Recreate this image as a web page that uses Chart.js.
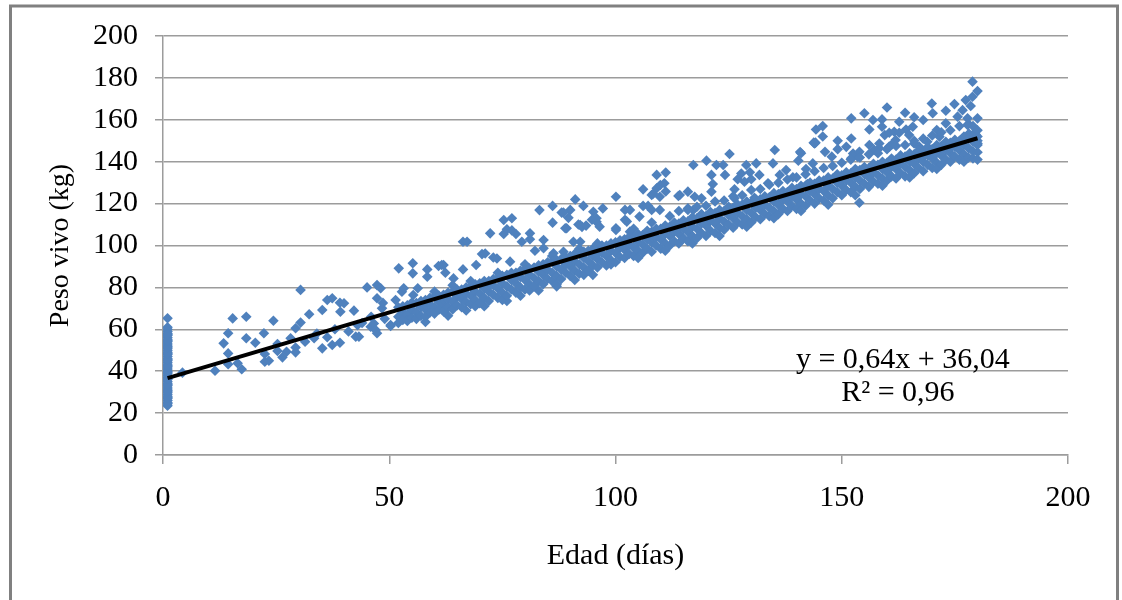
<!DOCTYPE html>
<html>
<head>
<meta charset="utf-8">
<script src="https://cdn.jsdelivr.net/npm/chart.js@4.4.1/dist/chart.umd.min.js"></script>
<style>
  html, body { margin: 0; padding: 0; background: #fff; }
  #grafico { display: block; }
</style>
</head>
<body>
<canvas id="grafico" width="1122" height="600"></canvas>
<script>
// peso al nacer (edad = 1 dia)
const nacidosPeso = [23.5, 25, 26, 27, 28, 29, 30, 31, 32, 33, 34, 35, 36, 37, 38, 39, 40, 41, 42, 43,
  44, 45, 46, 47, 48, 49, 50, 51, 52, 53, 54, 55, 56, 57, 58, 59, 60, 61, 65.3,
  24.5, 27.5, 30.5, 33.5, 36.5, 39.5, 42.5, 45.5, 48.5, 51.5, 54.5, 57.5];

// primeros dias, puntos sueltos [edad, peso]
const tramo1 = [[4.3, 39.3], [11.5, 40.2], [13.4, 53.3], [14.4, 58.1], [14.4, 48.5], [14.4, 43.3], [15.4, 65.2],
  [16.5, 43.8], [17.4, 40.9], [18.4, 66], [18.4, 55.7], [20.4, 53.6], [22.3, 58.1], [22.5, 48.2], [22.5, 44.5],
  [23.4, 45], [24.4, 64.1], [25.3, 53], [25.3, 49.7], [26.4, 46.6], [27.3, 49.3], [28.2, 55.7], [29.3, 60.5],
  [29.3, 51.3], [29.3, 49], [30.4, 78.8], [30.4, 63.2], [31.4, 54.1], [32.3, 67.2], [33.4, 55.7], [35.2, 69.2],
  [35.2, 50.9], [36.3, 74], [37.4, 74.8], [36.3, 56.2], [37.4, 52.5], [39.1, 72.7], [39.1, 53.6], [39.2, 68.4],
  [40, 72.4], [42.2, 68.9], [42.6, 56.5], [43.3, 56.5], [45.1, 80], [45.9, 61.2], [46.6, 62.8], [47, 59.7],
  [47.3, 58.1], [47.3, 81.1], [48.1, 79.6], [47.3, 74.8], [48.4, 70], [48.6, 72.6], [50.3, 62], [50.3, 61.6],
  [34, 58], [38, 60], [41, 59], [43, 62], [44, 63], [46, 66], [49, 65]];

// puntos altos dispersos, 50 a 100 dias
const tramo2 = [[51.4, 74], [52.1, 89.1], [52.8, 77.9], [53.2, 79.6], [52.9, 67.6], [55.2, 91.5], [55.2, 86.7],
  [55.3, 76.4], [56.3, 79.6], [58.4, 88.6], [58.4, 85.1], [60.9, 90.2], [62, 90.7], [62.4, 87], [64.2, 84.3],
  [66.3, 88.6], [66.3, 101.8], [67.2, 101.8], [69.2, 90.7], [70.5, 95.9], [71.2, 96.2], [72.3, 105.8], [73, 94.3],
  [73.8, 93.8], [75.3, 112.2], [75.3, 105.5], [77.1, 113], [76, 107.7], [77.1, 107.2], [78, 105.5], [79.3, 101.8],
  [76.7, 92.3], [81.1, 105.8], [81.1, 103], [82.2, 97.5], [84.1, 102.6], [84.1, 98.7], [83.2, 116.9], [86.1, 118.9],
  [86.1, 110.9], [88.1, 115.7], [90, 117], [89.6, 113.2], [89.2, 108.2], [91.1, 122], [91.8, 110], [86.3, 96.3],
  [88.5, 97], [90.7, 101.8], [91.4, 96.2], [92.2, 101.8], [92.6, 108.9], [95.8, 111.3], [96.5, 109], [94.8, 96.2],
  [100.1, 107.4], [92.9, 118.9], [92.2, 109.8], [93.5, 109.5], [95.1, 116.1], [95.8, 113], [94.8, 112.3],
  [97.2, 117.7], [88.5, 115.7], [88.9, 108.2], [61.6, 90.7],
  [60, 78], [64, 81], [68, 83], [74, 87], [80, 91], [86, 95], [92, 98.5], [96, 101],
  [58, 63.5], [63, 66.5], [67, 69], [71, 71], [76, 73.5], [79, 76], [83, 78.5], [87, 80.5], [91, 83.5], [95, 86]];

// puntos altos dispersos, 100 a 150 dias
const tramo3 = [[100.1, 123.3], [100.1, 108.2], [102.1, 117], [103.2, 117], [102.1, 112.3], [103.2, 106.6],
  [102.5, 111.4], [105.3, 113.8], [106.1, 126.8], [106.1, 118.9], [107.2, 118.9], [108, 124.1], [109.1, 133.7],
  [109.1, 127.3], [109.9, 128.9], [111.1, 134.8], [111.1, 125.8], [109.8, 123.3], [109.8, 117], [108, 117],
  [110.8, 129.7], [108.3, 124.7], [113.9, 123.6], [114.2, 124.1], [116, 125.7], [117.5, 123.3], [117.2, 138.4],
  [116, 117.7], [117.2, 117], [119, 122.5], [120.1, 140.5], [121.2, 133.7], [121.2, 125.7], [121.5, 129.3],
  [122.3, 138.4], [123.8, 138.4], [124.2, 133.7], [125.2, 143.7], [126.3, 126.8], [126.3, 122.5], [127, 131.6],
  [127.8, 134.4], [128.9, 138.4], [128.5, 130.4], [129.7, 135], [130, 131.6], [131.1, 139.2], [131.8, 133.7],
  [130.7, 122.8], [133.7, 129.7], [134.8, 139.2], [135.2, 145.6], [136.3, 133.7], [137.7, 136], [139.2, 132.6],
  [140.4, 140.5], [141, 144], [142.1, 136.5], [143.6, 139.2], [144.3, 155.4], [144.2, 149.1], [142.4, 129.3],
  [140.6, 123.8], [143.8, 149.1], [140.8, 144.6], [145.8, 157], [145.8, 152], [144, 148.7], [146.3, 144.7],
  [147.8, 142.4], [149.1, 150], [149.1, 146],
  [104, 108], [108, 111], [112, 114], [114, 116.5], [116, 117], [118, 118.5], [120, 119], [122, 121],
  [124, 121.5], [126, 123.5], [128, 124], [130, 126.5], [132, 127], [134, 129], [136, 130], [138, 131.5],
  [140, 132.5], [142, 134], [144, 135.5], [146, 137], [148, 138]];

// puntos altos dispersos, 150 a 180 dias
const tramo4 = [[151, 147.1], [152.1, 160.7], [152.1, 151.1], [152.1, 141.6], [153.5, 142.4], [152.5, 143.9],
  [153.9, 144.7], [155, 163.1], [156.1, 155.4], [156.9, 159.9], [157.2, 145.6], [156.1, 148], [158.3, 146.4],
  [158.3, 148.7], [158.9, 160.2], [158.9, 156.7], [160, 165.9], [159.5, 152.7], [160.5, 153.8], [161.6, 154.3],
  [161.9, 150.3], [160.5, 147.2], [161.2, 148.4], [162.7, 159.1], [162.7, 153.8], [164, 163.4], [164.2, 155.4],
  [164.9, 152.7], [166, 161.2], [165.7, 156.7], [166, 148.7], [167.1, 147.2], [168, 159.9], [168.9, 149.5],
  [169.9, 167.8], [170.1, 163.1], [171, 155.1], [171.6, 151.9], [173, 164.3], [173, 158.3], [174.9, 167.5],
  [175.6, 161.5], [176.7, 164.6], [177.4, 169.4], [177.8, 160.7], [177.8, 157.5], [178.9, 178.2], [178.9, 171],
  [180, 173.7], [180, 160.7], [178.5, 166.6], [178.1, 153.4], [180, 148.7], [179.6, 153], [153.9, 120.4],
  [150, 139.5], [152, 141], [154, 142], [156, 143.5], [158, 144], [160, 146], [162, 147.5], [164, 148],
  [166, 150], [168, 151], [170, 152.5], [172, 154], [174, 155], [176, 157], [178, 158]];

// nube densa junto a la tendencia: [edad, peso, peso, ...]
const banda = [
  [52, 70.5, 66, 63], [53, 68.2, 64.5, 71], [54, 71.5, 67, 64], [55, 69.5, 65.5, 72.8], [56, 72.5, 68, 65],
  [57, 70.5, 66.4, 73.5], [58, 74, 69.5, 66, 71.5], [59, 72, 68, 75], [60, 75.5, 70.5, 67.5], [61, 73, 69.5, 76],
  [62, 76.5, 72, 68.5, 74], [63, 74.5, 70.5, 77.5], [64, 78, 73, 69.5], [65, 75.5, 71.5, 79], [66, 79, 74.5, 70.5, 76.5],
  [67, 77, 73, 80], [68, 80.5, 76, 72], [69, 78, 74, 71, 81.5], [70, 82, 77, 72.5], [71, 79.5, 75, 83],
  [72, 83, 78, 73.5, 80.5], [73, 81, 76.5, 84], [74, 84.5, 79.5, 75], [75, 82, 77.5, 74, 85.5], [76, 86, 80.5, 76],
  [77, 83.5, 79, 87], [78, 87, 82, 77.5, 84.5], [79, 85, 80, 88], [80, 88.5, 83.5, 79], [81, 86, 81.5, 89, 78.5],
  [82, 89.5, 84.5, 80.5], [83, 87.5, 83, 90.5], [84, 91, 86, 81.5, 88], [85, 88.5, 84, 92], [86, 92.5, 87, 83],
  [87, 90, 85.5, 93, 81.5], [88, 93.5, 88.5, 84], [89, 91, 87, 94.5], [90, 95, 90, 85.5, 92], [91, 92.5, 88, 96],
  [92, 96, 91, 86.5], [93, 94, 89.5, 97, 86], [94, 97.5, 92.5, 88], [95, 95, 90.5, 98.5], [96, 99, 93.5, 89.5, 96],
  [97, 96.5, 92, 100], [98, 100, 95, 90.5], [99, 97.5, 93, 101, 91], [100, 101.5, 96.5, 92], [101, 99, 94.5, 102.5],
  [102, 103, 98, 94, 100], [103, 100.5, 96, 104], [104, 104, 99, 95], [105, 101.5, 97.5, 105.5, 94], [106, 105, 100.5, 96.5],
  [107, 103, 98.5, 107], [108, 106.5, 101.5, 97, 104], [109, 104, 100, 108], [110, 108, 103, 98.5], [111, 105.5, 101, 109.5, 97.5],
  [112, 109, 104.5, 100], [113, 106.5, 102, 111], [114, 110.5, 105.5, 101, 108], [115, 108, 103.5, 112], [116, 111.5, 106.5, 102],
  [117, 109, 104.5, 113.5, 101], [118, 113, 108, 103.5], [119, 110.5, 106, 115], [120, 114, 109.5, 104.5, 111.5], [121, 112, 107, 116],
  [122, 115.5, 110.5, 106], [123, 113, 108.5, 117, 104.5], [124, 116.5, 111.5, 107.5], [125, 114.5, 110, 118.5], [126, 118, 113, 108.5, 115],
  [127, 115.5, 111, 119.5], [128, 119.5, 114, 110], [129, 117, 112.5, 121, 109], [130, 120.5, 115.5, 111], [131, 118, 113.5, 122],
  [132, 122, 117, 112.5, 119.5], [133, 119.5, 115, 123.5], [134, 123, 118, 114], [135, 121, 116.5, 125, 113], [136, 124.5, 119.5, 115],
  [137, 122, 117.5, 126], [138, 125.5, 121, 116.5, 123], [139, 123.5, 119, 127.5], [140, 127, 122, 117.5], [141, 124.5, 120, 128.5, 116.5],
  [142, 128.5, 123.5, 119], [143, 126, 121.5, 130], [144, 129.5, 124.5, 120, 127], [145, 127, 122.5, 131], [146, 131, 126, 121.5],
  [147, 128.5, 124, 132.5, 119.5], [148, 132, 127, 122.5], [149, 130, 125.5, 134], [150, 133.5, 128.5, 124, 131], [151, 131, 126.5, 135],
  [152, 134.5, 130, 125.5], [153, 132.5, 128, 136.5, 124], [154, 136, 131, 127], [155, 134, 129.5, 137.5], [156, 137, 132.5, 128, 135],
  [157, 135, 130.5, 139], [158, 138.5, 133.5, 129.5], [159, 136.5, 132, 140, 128.5], [160, 139.5, 135, 131], [161, 137.5, 133, 141.5],
  [162, 141, 136.5, 132, 138.5], [163, 139, 134.5, 143], [164, 142.5, 137.5, 133], [165, 140, 136, 144, 132.5], [166, 143.5, 139, 134.5],
  [167, 141.5, 137, 145.5], [168, 145, 140, 135.5, 142.5], [169, 143, 138.5, 147], [170, 146, 141.5, 137], [171, 144, 139.5, 148, 136.5],
  [172, 147.5, 143, 138.5], [173, 145.5, 141, 149.5], [174, 149, 144, 140, 146.5], [175, 147, 142.5, 150.5], [176, 150, 145.5, 141],
  [177, 148, 143.5, 152, 140], [178, 151, 146.5, 142], [179, 149.5, 145, 153, 141.5, 157], [180, 152, 148, 144.5, 141, 155, 150]
];

const tendenciaEdad = [1, 180];
const tendenciaPeso = [36.7, 151.2];

const ejeYTicks = [0, 20, 40, 60, 80, 100, 120, 140, 160, 180, 200];
const ejeXTicks = [0, 50, 100, 150, 200];

const puntos = [];
nacidosPeso.forEach(p => puntos.push({ x: 1, y: p }));
[tramo1, tramo2, tramo3, tramo4].forEach(t => t.forEach(([e, p]) => puntos.push({ x: e, y: p })));
banda.forEach(([e, ...pesos]) => pesos.forEach(p => puntos.push({ x: e, y: p })));

const tendencia = tendenciaEdad.map((e, i) => ({ x: e, y: tendenciaPeso[i] }));

const FUENTE = "'Liberation Serif', 'Times New Roman', serif";
const GRIS = '#9c9c9c';

const marco = {
  id: 'marco',
  beforeDraw(chart) {
    const ctx = chart.ctx;
    ctx.save();
    ctx.fillStyle = '#fff';
    ctx.fillRect(0, 0, chart.width, chart.height);
    ctx.strokeStyle = '#808080';
    ctx.lineWidth = 3;
    ctx.strokeRect(10.5, 6, 1107, 650);
    ctx.restore();
  }
};

const ecuacion = {
  id: 'ecuacion',
  afterDatasetsDraw(chart) {
    const { ctx, scales: { x, y } } = chart;
    ctx.save();
    ctx.font = '30px ' + FUENTE;
    ctx.fillStyle = '#000';
    ctx.textAlign = 'center';
    ctx.textBaseline = 'middle';
    ctx.fillText('y = 0,64x + 36,04', x.getPixelForValue(163.5), y.getPixelForValue(45.3));
    ctx.fillText('R² = 0,96', x.getPixelForValue(162.4), y.getPixelForValue(29.6));
    ctx.restore();
  }
};

new Chart(document.getElementById('grafico'), {
  type: 'scatter',
  data: {
    datasets: [
      {
        type: 'line',
        data: tendencia,
        borderColor: '#000',
        borderWidth: 4,
        pointRadius: 0,
        fill: false,
        order: 0
      },
      {
        data: puntos,
        backgroundColor: '#4f81bd',
        borderWidth: 0,
        pointStyle: 'rectRot',
        pointRadius: 5.3,
        order: 1
      }
    ]
  },
  options: {
    responsive: false,
    animation: false,
    events: [],
    layout: { padding: { left: 0, right: 54, top: 36, bottom: 0 } },
    plugins: { legend: { display: false }, tooltip: { enabled: false } },
    scales: {
      x: {
        type: 'linear',
        min: 0,
        max: 200,
        afterFit: s => { s.height = 145; },
        afterBuildTicks: s => { s.ticks = ejeXTicks.map(v => ({ value: v })); },
        grid: { drawOnChartArea: false, drawTicks: true, tickLength: 9, color: GRIS, lineWidth: 1.5 },
        border: { display: true, color: GRIS, width: 1.5 },
        ticks: { color: '#000', padding: 16, font: { family: FUENTE, size: 30 } },
        title: { display: true, text: 'Edad (días)', color: '#000', padding: { bottom: 26 }, font: { family: FUENTE, size: 30 } }
      },
      y: {
        min: 0,
        max: 200,
        afterFit: s => { s.width = 163; },
        afterBuildTicks: s => { s.ticks = ejeYTicks.map(v => ({ value: v })); },
        grid: { drawTicks: true, tickLength: 8, color: GRIS, lineWidth: 1.5 },
        border: { display: true, color: GRIS, width: 1.5 },
        ticks: { color: '#000', padding: 17, font: { family: FUENTE, size: 30 } },
        title: { display: true, text: 'Peso vivo (kg)', color: '#000', padding: { top: 44 }, font: { family: FUENTE, size: 28 } }
      }
    }
  },
  plugins: [marco, ecuacion]
});
</script>
</body>
</html>
